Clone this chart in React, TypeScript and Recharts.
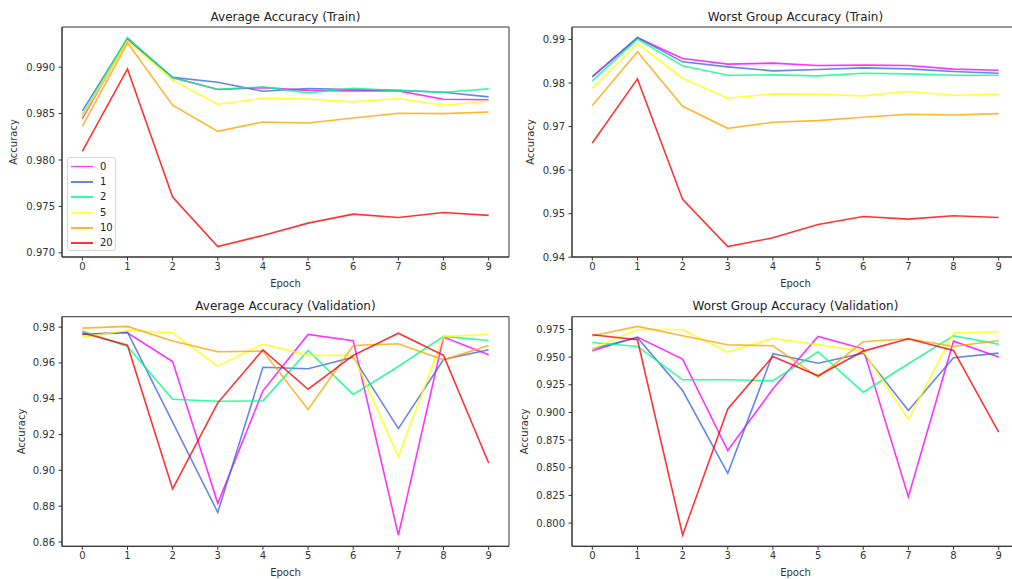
import React from 'react';
import { LineChart, Line, XAxis, YAxis, ReferenceArea } from 'recharts';

const epochs = [0, 1, 2, 3, 4, 5, 6, 7, 8, 9];
const seriesNames = ['0', '1', '2', '5', '10', '20'];
const seriesColors = ['#ff00ff', '#4169e1', '#00ff7f', '#ffff00', '#ffa500', '#ff0000'];

// Average Accuracy (Train): one row per series (0, 1, 2, 5, 10, 20)
const avgTrain = [
  [0.98446, 0.99299, 0.98888, 0.9876, 0.9878, 0.9875, 0.98745, 0.98745, 0.98655, 0.9865],
  [0.98529, 0.9931, 0.9889, 0.98838, 0.98741, 0.9877, 0.9876, 0.98752, 0.9873, 0.9868],
  [0.98482, 0.9932, 0.98885, 0.98763, 0.98788, 0.98723, 0.98773, 0.98748, 0.9873, 0.98766],
  [0.9847, 0.99284, 0.9886, 0.98601, 0.98665, 0.98658, 0.98626, 0.98662, 0.9859, 0.98633],
  [0.98363, 0.99263, 0.9859, 0.98309, 0.9841, 0.98399, 0.98453, 0.98504, 0.985, 0.98518],
  [0.98094, 0.98982, 0.97601, 0.97068, 0.97187, 0.9732, 0.97417, 0.97381, 0.97435, 0.97403],
];

// Worst Group Accuracy (Train)
const worstTrain = [
  [0.98141, 0.99038, 0.98563, 0.98433, 0.98456, 0.98402, 0.9841, 0.98402, 0.98318, 0.98294],
  [0.98149, 0.99046, 0.98486, 0.98371, 0.98279, 0.9831, 0.98348, 0.98325, 0.98264, 0.98225],
  [0.98049, 0.99008, 0.98394, 0.98179, 0.98187, 0.98164, 0.98225, 0.9821, 0.98179, 0.98179],
  [0.97873, 0.98908, 0.9811, 0.9765, 0.9775, 0.97742, 0.97704, 0.97804, 0.9772, 0.97742],
  [0.97482, 0.98716, 0.97466, 0.9696, 0.97098, 0.97137, 0.97213, 0.97282, 0.97267, 0.97298],
  [0.96623, 0.98095, 0.95327, 0.94245, 0.94445, 0.94751, 0.94936, 0.94874, 0.94951, 0.94913],
];

// Average Accuracy (Validation)
const avgVal = [
  [0.9759, 0.9768, 0.9608, 0.8816, 0.9444, 0.9759, 0.9724, 0.8639, 0.9744, 0.9645],
  [0.9759, 0.9772, 0.9269, 0.8765, 0.9576, 0.9567, 0.9632, 0.9233, 0.9619, 0.9673],
  [0.9778, 0.9692, 0.9397, 0.9386, 0.9388, 0.967, 0.9424, 0.958, 0.9748, 0.9725],
  [0.9744, 0.9781, 0.9768, 0.9582, 0.9705, 0.9642, 0.9642, 0.9077, 0.9748, 0.9759],
  [0.9794, 0.9804, 0.9722, 0.9662, 0.9666, 0.934, 0.9697, 0.9707, 0.9617, 0.9697],
  [0.9768, 0.9699, 0.8896, 0.9377, 0.9673, 0.9453, 0.9642, 0.9766, 0.9642, 0.9041],
];

// Worst Group Accuracy (Validation)
const worstVal = [
  [0.9557, 0.9681, 0.9482, 0.8655, 0.9213, 0.9687, 0.9575, 0.8239, 0.9644, 0.95],
  [0.9575, 0.9675, 0.9198, 0.845, 0.953, 0.9445, 0.9536, 0.9017, 0.9494, 0.9536],
  [0.9632, 0.9596, 0.9295, 0.9295, 0.9286, 0.9548, 0.9183, 0.944, 0.9693, 0.9617],
  [0.9575, 0.975, 0.975, 0.9545, 0.9669, 0.9611, 0.9554, 0.8939, 0.9717, 0.9729],
  [0.9693, 0.9777, 0.9693, 0.9611, 0.9602, 0.9319, 0.9638, 0.9666, 0.9596, 0.965],
  [0.9702, 0.9657, 0.7892, 0.9032, 0.9506, 0.9331, 0.9554, 0.9666, 0.956, 0.8821],
];

const avgTrainTicks = [0.97, 0.975, 0.98, 0.985, 0.99];
const worstTrainTicks = [0.94, 0.95, 0.96, 0.97, 0.98, 0.99];
const avgValTicks = [0.86, 0.88, 0.9, 0.92, 0.94, 0.96, 0.98];
const worstValTicks = [0.8, 0.825, 0.85, 0.875, 0.9, 0.925, 0.95, 0.975];

const X_DOMAIN: [number, number] = [-0.45, 9.45];

const FONT = "'DejaVu Sans', sans-serif";
const TXT = '#333';

function buildRows(values: number[][]) {
  return epochs.map((e, i) => {
    const row: Record<string, number> = { epoch: e };
    seriesNames.forEach((n, s) => {
      row['s' + n] = values[s][i];
    });
    return row;
  });
}

const YLabel = (props: any) => {
  const vb = props.viewBox || { x: 0, y: 0, width: 0, height: 0 };
  const x = vb.x + props.posX;
  const cy = vb.y + vb.height / 2;
  return (
    <text x={x} y={cy} transform={`rotate(-90 ${x} ${cy})`} textAnchor="middle" dominantBaseline="central" fontSize={10} fill={TXT} fontFamily={FONT}>
      Accuracy
    </text>
  );
};

const XLabel = (props: any) => {
  const vb = props.viewBox || { x: 0, y: 0, width: 0, height: 0 };
  return (
    <text x={vb.x + vb.width / 2} y={vb.y + vb.height - 0.5} textAnchor="middle" fontSize={10} fill={TXT} fontFamily={FONT}>
      Epoch
    </text>
  );
};

type PanelProps = {
  left: number;
  top: number;
  height: number;
  marginTop: number;
  marginBottom: number;
  title: string;
  values: number[][];
  domain: [number, number];
  ticks: number[];
  decimals: number;
  yLabelX: number;
};

const CHART_W = 520;
const Y_W = 62;
const M_RIGHT = 11;
const X_H = 30;

function Panel(p: PanelProps) {
  const rows = buildRows(p.values);
  const plotW = CHART_W - Y_W - M_RIGHT;
  return (
    <div style={{ position: 'absolute', left: p.left, top: p.top, width: CHART_W, height: p.height }}>
      <div
        style={{
          position: 'absolute',
          left: Y_W,
          width: plotW,
          top: p.marginTop - 17.5,
          textAlign: 'center',
          fontSize: 12,
          lineHeight: '14px',
          color: '#222',
          fontFamily: FONT,
          whiteSpace: 'nowrap',
        }}
      >
        {p.title}
      </div>
      <LineChart
        width={CHART_W}
        height={p.height}
        data={rows}
        margin={{ top: p.marginTop, right: M_RIGHT, bottom: p.marginBottom, left: 0 }}
        style={{ position: 'absolute', left: 0, top: 0 }}
      >
        <XAxis
          dataKey="epoch"
          type="number"
          domain={X_DOMAIN}
          ticks={epochs}
          allowDataOverflow
          height={X_H}
          tickSize={3.5}
          tickMargin={2.5}
          tick={{ fontSize: 10, fill: TXT, fontFamily: FONT }}
          axisLine={{ stroke: '#333', strokeWidth: 1 }}
          tickLine={{ stroke: '#333', strokeWidth: 1 }}
          label={<XLabel />}
          interval={0}
        />
        <YAxis
          type="number"
          domain={p.domain}
          ticks={p.ticks}
          allowDataOverflow
          width={Y_W}
          tickSize={3.5}
          tickMargin={3.5}
          tick={{ fontSize: 10, fill: TXT, fontFamily: FONT }}
          tickFormatter={(v: number) => v.toFixed(p.decimals)}
          axisLine={{ stroke: '#333', strokeWidth: 1 }}
          tickLine={{ stroke: '#333', strokeWidth: 1 }}
          label={<YLabel posX={p.yLabelX} />}
          interval={0}
        />
        <ReferenceArea
          x1={X_DOMAIN[0]}
          x2={X_DOMAIN[1]}
          y1={p.domain[0]}
          y2={p.domain[1]}
          fill="none"
          fillOpacity={0}
          stroke="#333"
          strokeWidth={1}
          strokeOpacity={1}
          ifOverflow="visible"
        />
        {seriesNames.map((n, s) => (
          <Line
            key={n}
            type="linear"
            dataKey={'s' + n}
            name={n}
            stroke={seriesColors[s]}
            strokeOpacity={0.8}
            strokeWidth={1.6}
            dot={false}
            activeDot={false}
            isAnimationActive={false}
          />
        ))}
      </LineChart>
    </div>
  );
}

function LegendBox() {
  return (
    <div
      style={{
        position: 'absolute',
        left: 67,
        top: 157,
        width: 49,
        height: 94,
        border: '1px solid #d6d6d6',
        borderRadius: 3,
        background: 'rgba(255,255,255,0.8)',
        fontFamily: FONT,
        fontSize: 10,
        color: '#222',
        boxSizing: 'border-box',
        paddingTop: 1,
      }}
    >
      {seriesNames.map((n, s) => (
        <div key={n} style={{ height: 15.3, display: 'flex', alignItems: 'center', position: 'relative' }}>
          <div style={{ position: 'absolute', left: 2.5, width: 22, height: 1.6, background: seriesColors[s], opacity: 0.8 }} />
          <div style={{ position: 'absolute', left: 32, lineHeight: '12px' }}>{n}</div>
        </div>
      ))}
    </div>
  );
}

export default function App() {
  return (
    <div style={{ position: 'absolute', left: 0, top: 0, width: 1012, height: 579, overflow: 'hidden', background: '#fff' }}>
      <Panel left={0} top={0} height={290} marginTop={27} marginBottom={3} title="Average Accuracy (Train)" values={avgTrain} domain={[0.96955, 0.99433]} ticks={avgTrainTicks} decimals={3} yLabelX={13} />
      <Panel left={510} top={0} height={290} marginTop={27} marginBottom={3} title="Worst Group Accuracy (Train)" values={worstTrain} domain={[0.94005, 0.99286]} ticks={worstTrainTicks} decimals={2} yLabelX={20} />
      <Panel left={0} top={290} height={289} marginTop={26.7} marginBottom={2.7} title="Average Accuracy (Validation)" values={avgVal} domain={[0.8576, 0.9858]} ticks={avgValTicks} decimals={2} yLabelX={21} />
      <Panel left={510} top={290} height={289} marginTop={26.7} marginBottom={2.7} title="Worst Group Accuracy (Validation)" values={worstVal} domain={[0.779, 0.9865]} ticks={worstValTicks} decimals={3} yLabelX={14} />
      <LegendBox />
    </div>
  );
}
